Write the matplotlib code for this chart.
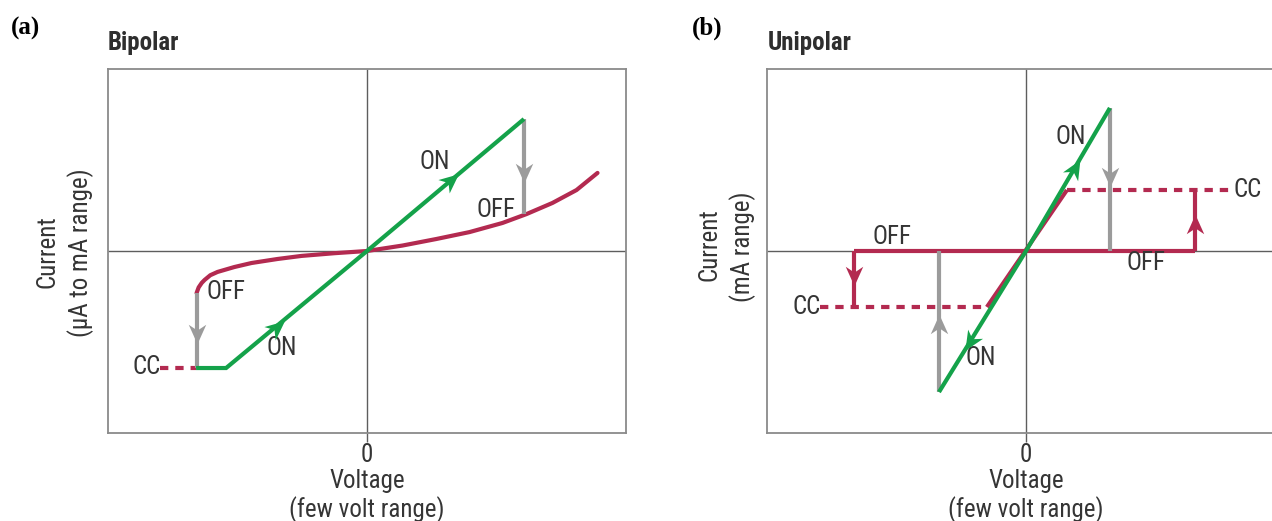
import numpy as np
import matplotlib
matplotlib.use('Agg')
import matplotlib.pyplot as plt
from matplotlib import font_manager
from matplotlib.path import Path
from matplotlib.markers import MarkerStyle
from matplotlib.transforms import Affine2D

plt.rcParams['lines.scale_dashes'] = False
plt.rcParams['lines.solid_capstyle'] = 'butt'


def _w(w):
    if isinstance(w, str):
        return font_manager.weight_dict.get(w, 400)
    return int(w)


_faces = {}
for _f in font_manager.fontManager.ttflist:
    _faces.setdefault((_f.name, str(_f.stretch)), set()).add(_w(_f.weight))

_cands = []
for (name, stretch), weights in _faces.items():
    if 'Mono' in name or 'Serif' in name or 'CJK' in name:
        continue
    narrow = ('Narrow' in name or 'Condensed' in name
              or stretch in ('condensed', 'semi-condensed', 'extra-condensed',
                             '500', '600', '700'))
    if not narrow or 'Extra' in name or 'Ultra' in name:
        continue
    has_reg = any(380 <= w <= 450 for w in weights)
    has_bold = any(w >= 600 for w in weights)
    if has_reg and has_bold:
        _cands.append((name, stretch))

_pref = ['Liberation Sans Narrow', 'Arial Narrow', 'Roboto Condensed',
         'Noto Sans', 'Open Sans', 'DejaVu Sans', 'Roboto', 'Lato', 'Inter']


def _rank(c):
    name, stretch = c
    for k, p in enumerate(_pref):
        if name.startswith(p):
            return (k, 0 if stretch in ('condensed', 'normal') else 1)
    return (len(_pref), 1)


if _cands:
    _cands.sort(key=_rank)
    _nm, _st = _cands[0]
    SANS = dict(family=_nm)
    if _st not in ('normal', '400'):
        SANS['stretch'] = _st
else:
    SANS = dict(family='Roboto')

# ---------------- data ----------------
# Panel (a) Bipolar
a_on_v = [-0.660, -0.544, 0.0, 0.606]
a_on_i = [-0.643, -0.643, 0.0, 0.725]
a_off_v = [-0.658, -0.650, -0.638, -0.627, -0.605, -0.577, -0.512, -0.446, -0.346,
           -0.253, -0.125, 0.0, 0.137, 0.268, 0.396, 0.523, 0.616, 0.716, 0.809, 0.890]
a_off_i = [-0.231, -0.200, -0.175, -0.159, -0.133, -0.115, -0.088, -0.066, -0.044,
           -0.027, -0.012, 0.0, 0.030, 0.066, 0.104, 0.154, 0.203, 0.264, 0.335, 0.429]
a_cc_v = [-0.800, -0.660]
a_cc_i = [-0.643, -0.643]
a_switch_v = [0.606, -0.658]
a_switch_from = [0.725, -0.231]
a_switch_to = [0.203, -0.643]

# Panel (b) Unipolar
b_on_v = [-0.336, 0.0, 0.324]
b_on_i = [-0.775, 0.0, 0.786]
b_off_v = [-0.664, 0.653]
b_off_i = [0.0, 0.0]
b_slope_v = [-0.151, 0.158]
b_slope_i = [-0.308, 0.335]
b_cc_neg_v = [-0.795, -0.151]
b_cc_neg_i = [-0.308, -0.308]
b_cc_pos_v = [0.158, 0.800]
b_cc_pos_i = [0.335, 0.335]
b_step_v = [-0.664, 0.653]
b_step_to = [-0.308, 0.335]
b_switch_v = [0.324, -0.336]
b_switch_from = [0.786, -0.775]

GREEN = '#14a24a'
RED = '#b32a50'
GRAY = '#9b9b9b'
TXT = '#353535'
AX = '#5e5e5e'

W, H = 1272, 521
fig = plt.figure(figsize=(W / 100, H / 100), dpi=100)


def fx(x):
    return x / W


def fy(y):
    return 1 - y / H


def make_ax(left_px):
    ax = fig.add_axes([fx(left_px), fy(433), 518 / W, (433 - 69) / H])
    ax.set_xlim(-1, 1)
    ax.set_ylim(-1, 1)
    for s in ax.spines.values():
        s.set_color('#8a8a8a')
        s.set_linewidth(1.3)
    ax.set_xticks([0])
    ax.set_xticklabels([''])
    ax.set_yticks([])
    ax.tick_params(axis='x', length=6.5, width=1.0, color=AX, direction='out')
    ax.axhline(0, color=AX, lw=1.0, zorder=1)
    ax.axvline(0, color=AX, lw=1.0, zorder=1)
    return ax


stealth = Path([(0.5, 0), (-0.5, 0.45), (-0.2, 0), (-0.5, -0.45), (0.5, 0)],
               [Path.MOVETO, Path.LINETO, Path.LINETO, Path.LINETO, Path.CLOSEPOLY])


def head(ax, x, y, dx, dy, color, z, size=14):
    p0 = ax.transData.transform((x, y))
    p1 = ax.transData.transform((x + dx, y + dy))
    ang = np.degrees(np.arctan2(p1[1] - p0[1], p1[0] - p0[0]))
    m = MarkerStyle(stealth, transform=Affine2D().rotate_deg(ang))
    ax.plot([x], [y], marker=m, markersize=size, color=color, mew=0,
            linestyle='none', zorder=z)


LW = 3.0
DASH = (6.0, 5.0)
FS = 18

# ---------------- panel (a) ----------------
ax1 = make_ax(108)
ax1.plot(a_cc_v, a_cc_i, color=RED, lw=LW, dashes=DASH, zorder=3)
ax1.plot(a_off_v, a_off_i, color=RED, lw=LW, zorder=3, solid_capstyle='round',
         solid_joinstyle='round')
for v, i0, i1 in zip(a_switch_v, a_switch_from, a_switch_to):
    ax1.plot([v, v], [i0, i1], color=GRAY, lw=LW, zorder=4)
    head(ax1, v, i0 - 0.57 * (i0 - i1) if v > 0 else i0 - 0.55 * (i0 - i1),
         0, -1, GRAY, 4.5)
ax1.plot(a_on_v, a_on_i, color=GREEN, lw=LW, zorder=5, solid_joinstyle='miter')
s_a = a_on_i[3] / a_on_v[3]
head(ax1, 0.326, 0.326 * s_a, 1, s_a, GREEN, 5.5)
head(ax1, -0.349, -0.349 * s_a, 1, s_a, GREEN, 5.5)

tk = dict(fontsize=FS, color=TXT, **SANS)
ax1.text(0.26, 0.49, 'ON', ha='center', va='center', **tk)
ax1.text(0.50, 0.225, 'OFF', ha='center', va='center', **tk)
ax1.text(-0.546, -0.225, 'OFF', ha='center', va='center', **tk)
ax1.text(-0.33, -0.533, 'ON', ha='center', va='center', **tk)
ax1.text(-0.795, -0.637, 'CC', ha='right', va='center', **tk)

# ---------------- panel (b) ----------------
ax2 = make_ax(767)
ax2.plot(b_cc_neg_v, b_cc_neg_i, color=RED, lw=LW, dashes=DASH, zorder=3)
ax2.plot(b_cc_pos_v, b_cc_pos_i, color=RED, lw=LW, dashes=DASH, zorder=3)
ax2.plot(b_off_v, b_off_i, color=RED, lw=LW, zorder=3)
ax2.plot(b_slope_v, b_slope_i, color=RED, lw=LW, zorder=3)
for v, i1 in zip(b_step_v, b_step_to):
    ax2.plot([v, v], [0, i1], color=RED, lw=LW, zorder=3)
    head(ax2, v, 0.44 * i1, 0, np.sign(i1), RED, 3.5)
for v, i0 in zip(b_switch_v, b_switch_from):
    ax2.plot([v, v], [i0, 0], color=GRAY, lw=LW, zorder=4)
    head(ax2, v, 0.52 * i0, 0, -np.sign(i0), GRAY, 4.5)
ax2.plot(b_on_v, b_on_i, color=GREEN, lw=LW, zorder=5)
s_b1 = b_on_i[2] / b_on_v[2]
s_b2 = b_on_i[0] / b_on_v[0]
head(ax2, 0.189, 0.189 * s_b1, 1, s_b1, GREEN, 5.5)
head(ax2, -0.216, -0.216 * s_b2, -1, -s_b2, GREEN, 5.5)

ax2.text(0.174, 0.626, 'ON', ha='center', va='center', **tk)
ax2.text(-0.517, 0.077, 'OFF', ha='center', va='center', **tk)
ax2.text(0.463, -0.066, 'OFF', ha='center', va='center', **tk)
ax2.text(0.800, 0.335, 'CC', ha='left', va='center', **tk)
ax2.text(-0.793, -0.308, 'CC', ha='right', va='center', **tk)
ax2.text(-0.174, -0.588, 'ON', ha='center', va='center', **tk)

# ---------------- figure texts ----------------
lab = dict(fontsize=FS, color=TXT, ha='center', va='center', **SANS)
for xc in (367, 1026):
    fig.text(fx(xc), fy(455), '0', **lab)
    fig.text(fx(xc), fy(481), 'Voltage', **lab)
    fig.text(fx(xc), fy(510), '(few volt range)', **lab)

fig.text(fx(47), fy(252), 'Current', rotation=90, **lab)
fig.text(fx(81), fy(253), '(\u00b5A to mA range)', rotation=90, **lab)
fig.text(fx(709), fy(245), 'Current', rotation=90, **lab)
fig.text(fx(743), fy(247), '(mA range)', rotation=90, **lab)

ttl = dict(fontsize=FS, color='#2e2e2e', weight='bold', ha='left', va='center', **SANS)
fig.text(fx(108), fy(43), 'Bipolar', **ttl)
fig.text(fx(768), fy(43), 'Unipolar', **ttl)

pl = dict(fontsize=18, color='black', weight='bold', ha='center', va='center',
          family='Liberation Serif')
fig.text(fx(25), fy(28), '(a)', **pl)
fig.text(fx(707), fy(28), '(b)', **pl)

fig.savefig('out.png', dpi=100)
